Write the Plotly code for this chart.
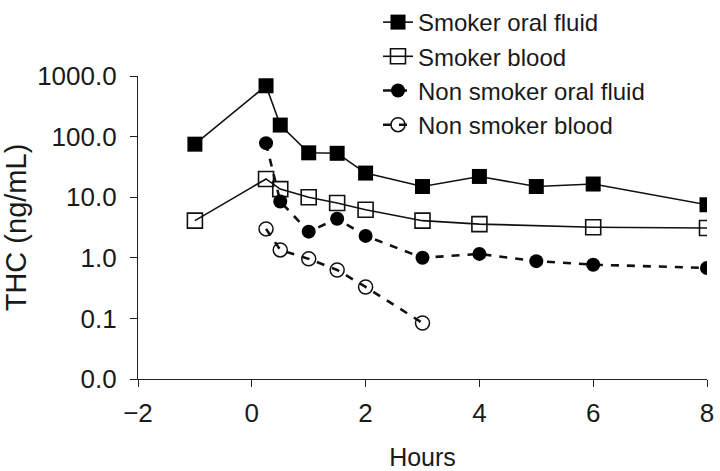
import plotly.graph_objects as go

hours_smoker = [-1, 0.25, 0.5, 1, 1.5, 2, 3, 4, 5, 6, 8]
smoker_oral = [75, 690, 155, 54, 53, 25, 15, 22, 15, 16.5, 7.5]

hours_smoker_blood = [-1, 0.25, 0.5, 1, 1.5, 2, 3, 4, 6, 8]
smoker_blood = [4.1, 20, 13.6, 10, 8.0, 6.2, 4.1, 3.6, 3.2, 3.1]

hours_non_oral = [0.25, 0.5, 1, 1.5, 2, 3, 4, 5, 6, 8]
non_smoker_oral = [78, 8.5, 2.7, 4.4, 2.3, 1.0, 1.16, 0.88, 0.77, 0.68]

hours_non_blood = [0.25, 0.5, 1, 1.5, 2, 3]
non_smoker_blood = [3.0, 1.35, 0.96, 0.63, 0.33, 0.084]

y_tickvals = [0.01, 0.1, 1, 10, 100, 1000]
y_ticktext = ["0.0", "0.1", "1.0", "10.0", "100.0", "1000.0"]
x_tickvals = [-2, 0, 2, 4, 6, 8]

FONT = "Liberation Sans, Arial, sans-serif"

fig = go.Figure()
fig.add_trace(go.Scatter(
    x=hours_smoker, y=smoker_oral, name="Smoker oral fluid", mode="lines+markers",
    line=dict(color="#111", width=1.6),
    marker=dict(symbol="square", size=15, color="#000", line=dict(width=0))))
fig.add_trace(go.Scatter(
    x=hours_smoker_blood, y=smoker_blood, name="Smoker blood", mode="lines+markers",
    line=dict(color="#111", width=1.6),
    marker=dict(symbol="square-open", size=15, color="#111", line=dict(width=1.6))))
fig.add_trace(go.Scatter(
    x=hours_non_oral, y=non_smoker_oral, name="Non smoker oral fluid", mode="lines+markers",
    line=dict(color="#111", width=2.6, dash="8px,8px"),
    marker=dict(symbol="circle", size=14, color="#000", line=dict(width=0))))
fig.add_trace(go.Scatter(
    x=hours_non_blood, y=non_smoker_blood, name="Non smoker blood", mode="lines+markers",
    line=dict(color="#111", width=2.6, dash="8px,8px"),
    marker=dict(symbol="circle-open", size=14, color="#111", line=dict(width=1.5))))

fig.update_layout(
    width=720, height=471,
    margin=dict(l=138, r=13, t=76, b=92, autoexpand=False),
    paper_bgcolor="white", plot_bgcolor="white",
    font=dict(family=FONT, size=26, color="#1a1a1a"),
    showlegend=True,
    legend=dict(xref="container", yref="container", x=0.525, xanchor="left",
                y=1.026, yanchor="top",
                bgcolor="rgba(0,0,0,0)", font=dict(size=24), tracegroupgap=0,
                itemwidth=30),
    xaxis=dict(range=[-2, 8], tickvals=x_tickvals, showgrid=False, zeroline=False,
               showline=True, linecolor="#222", linewidth=1.2, automargin=False,
               ticks="outside", ticklen=7, tickcolor="#222", tickwidth=1.2,
               ticklabelstandoff=4,
               title=dict(text="Hours", font=dict(size=25), standoff=30)),
    yaxis=dict(type="log", range=[-2, 3], tickvals=y_tickvals, ticktext=y_ticktext,
               showgrid=False, zeroline=False, automargin=False,
               showline=True, linecolor="#222", linewidth=1.2,
               ticks="outside", ticklen=7, tickcolor="#222", tickwidth=1.2,
               ticklabelstandoff=8,
               title=dict(text="THC (ng/mL)", font=dict(size=29), standoff=12)),
)

fig.write_html("out.html", config={"displayModeBar": False},
               post_script="document.body.style.margin='0px';")
